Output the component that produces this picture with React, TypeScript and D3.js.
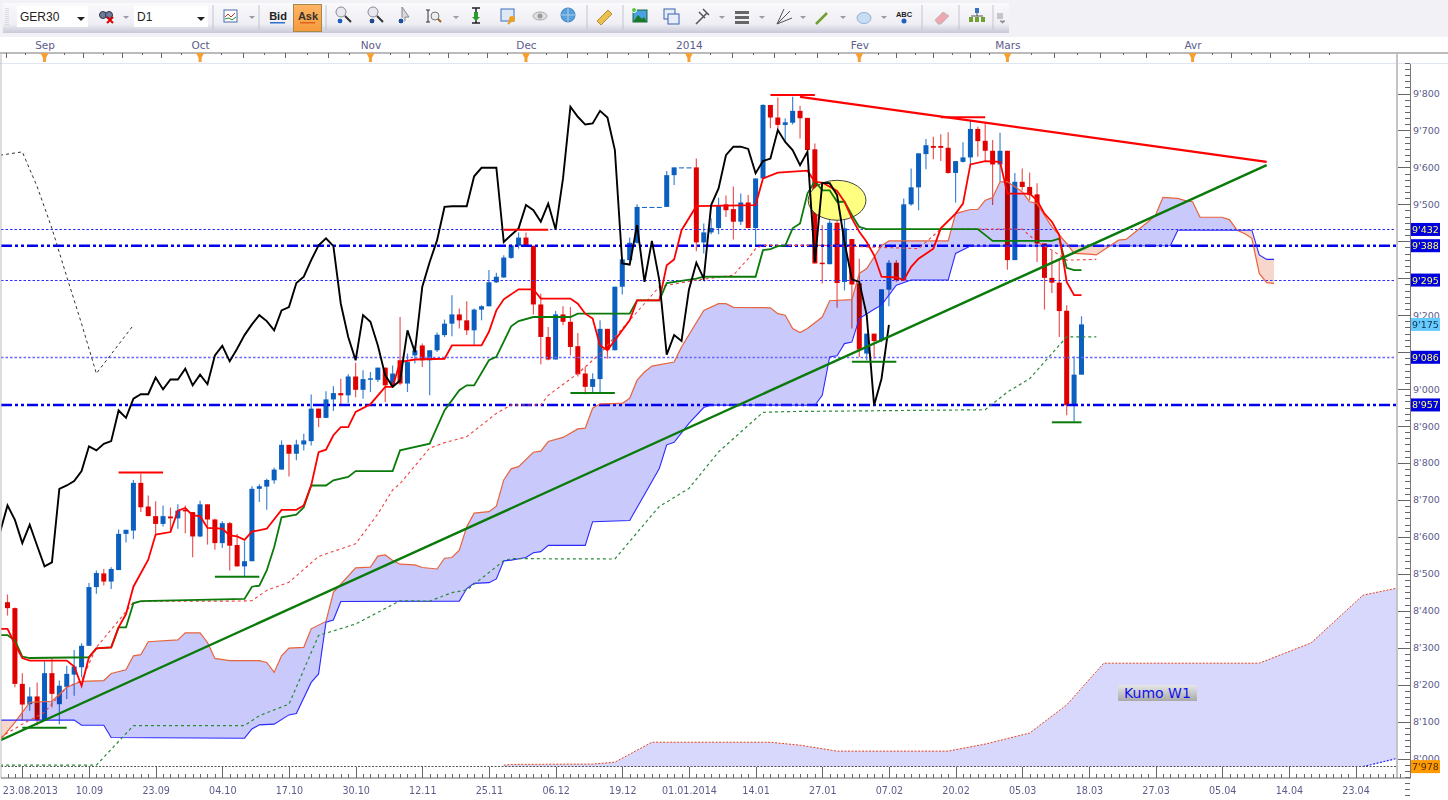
import { useEffect, useRef } from "react";
import * as d3 from "d3";

// daily candles, one entry per bar (bar 0 = 23.08.2013 minus two sessions)
const opens = [
  8423, 8407, 8202, 8147, 8168, 8102, 8231, 8147, 8194, 8227, 8247, 8305, 8464, 8501, 8479, 8510, 8608, 8617, 8746, 8682,
  8656, 8635, 8655, 8650, 8673, 8667, 8601, 8688, 8647, 8583, 8637, 8578, 8520, 8534, 8730, 8736, 8753, 8782, 8849, 8825,
  8850, 8859, 8947, 8922, 8972, 8989, 8983, 9034, 8998, 9025, 9025, 9058, 9010, 9078, 9015, 9091, 9118, 9078, 9105, 9146,
  9177, 9202, 9186, 9159, 9215, 9224, 9289, 9302, 9355, 9388, 9410, 9388, 9229, 9141, 9080, 9202, 9182, 9116, 9042, 9006,
  9027, 9163, 9105, 9277, 9349, 9396, 9493, 9493, 9493, 9493, 9579, 9600, 9600, 9600, 9397, 9424, 9436, 9500, 9487, 9453,
  9505, 9436, 9570, 9769, 9735, 9715, 9721, 9753, 9734, 9649, 9342, 9338, 9450, 9290, 9406, 9286, 9096, 9150, 9132, 9269,
  9342, 9295, 9500, 9546, 9636, 9658, 9658, 9653, 9585, 9615, 9627, 9704, 9672, 9645, 9608, 9645, 9349, 9561, 9547, 9527,
  9394, 9301, 9288, 9212, 8956, 9039,
];
const highs = [
  8444, 8409, 8231, 8193, 8206, 8263, 8272, 8211, 8251, 8294, 8312, 8475, 8509, 8513, 8518, 8620, 8619, 8754, 8771, 8712,
  8696, 8685, 8679, 8688, 8685, 8667, 8698, 8688, 8649, 8642, 8640, 8608, 8588, 8737, 8742, 8757, 8787, 8861, 8849, 8863,
  8879, 8985, 8947, 8994, 9008, 9028, 9040, 9071, 9051, 9046, 9058, 9058, 9064, 9195, 9096, 9118, 9123, 9105, 9153, 9188,
  9254, 9218, 9238, 9218, 9227, 9322, 9315, 9362, 9391, 9424, 9424, 9388, 9258, 9168, 9211, 9224, 9222, 9152, 9060, 9043,
  9186, 9163, 9277, 9351, 9410, 9500, 9493, 9493, 9493, 9590, 9600, 9600, 9600, 9624, 9448, 9462, 9518, 9524, 9548, 9529,
  9525, 9570, 9771, 9769, 9789, 9733, 9791, 9767, 9734, 9665, 9444, 9457, 9511, 9471, 9406, 9353, 9150, 9150, 9270, 9349,
  9349, 9516, 9597, 9638, 9677, 9683, 9690, 9695, 9617, 9668, 9728, 9710, 9719, 9674, 9694, 9645, 9585, 9597, 9586, 9557,
  9394, 9374, 9353, 9227, 9089, 9197,
];
const lows = [
  8387, 8193, 8102, 8129, 8089, 8102, 8138, 8093, 8161, 8170, 8220, 8305, 8446, 8468, 8459, 8510, 8585, 8594, 8667, 8656,
  8608, 8628, 8613, 8622, 8610, 8545, 8599, 8579, 8565, 8570, 8509, 8520, 8491, 8534, 8694, 8673, 8744, 8782, 8763, 8807,
  8834, 8847, 8897, 8922, 8941, 8956, 8962, 8978, 8974, 8992, 9019, 8965, 9006, 9010, 8992, 9069, 9060, 8983, 9100, 9141,
  9143, 9164, 9146, 9118, 9186, 9224, 9287, 9301, 9353, 9380, 9388, 9202, 9067, 9078, 9080, 9173, 9091, 9034, 8986, 8989,
  8989, 9082, 9105, 9256, 9344, 9394, 9493, 9493, 9493, 9493, 9552, 9600, 9600, 9373, 9367, 9419, 9419, 9466, 9405, 9444,
  9435, 9387, 9570, 9706, 9697, 9669, 9716, 9678, 9642, 9340, 9286, 9338, 9220, 9267, 9164, 9087, 9078, 9082, 9127, 9224,
  9290, 9295, 9496, 9484, 9595, 9622, 9617, 9583, 9505, 9613, 9606, 9629, 9615, 9498, 9561, 9323, 9349, 9538, 9511, 9344,
  9215, 9260, 9141, 8929, 8912, 9039,
];
const closes = [
  8407, 8202, 8146, 8168, 8104, 8231, 8175, 8197, 8229, 8249, 8305, 8464, 8502, 8479, 8513, 8608, 8619, 8746, 8680, 8656,
  8635, 8656, 8650, 8671, 8669, 8601, 8688, 8647, 8583, 8637, 8576, 8520, 8534, 8730, 8737, 8754, 8782, 8849, 8825, 8850,
  8861, 8947, 8922, 8972, 8989, 8983, 9034, 8998, 9027, 9029, 9058, 9010, 9042, 9015, 9073, 9105, 9078, 9105, 9147, 9177,
  9202, 9186, 9159, 9215, 9224, 9289, 9304, 9356, 9389, 9410, 9388, 9229, 9141, 9080, 9202, 9182, 9114, 9040, 9006, 9027,
  9163, 9107, 9277, 9351, 9396, 9493, 9493, 9493, 9493, 9579, 9600, 9600, 9600, 9397, 9424, 9436, 9498, 9484, 9453, 9505,
  9436, 9570, 9769, 9735, 9715, 9722, 9753, 9733, 9647, 9340, 9338, 9450, 9287, 9435, 9283, 9107, 9150, 9130, 9270, 9342,
  9295, 9500, 9546, 9638, 9660, 9653, 9653, 9585, 9617, 9627, 9704, 9671, 9645, 9608, 9645, 9349, 9561, 9547, 9525, 9394,
  9301, 9288, 9211, 8956, 9039, 9175,
];

type Pt = [number, number]; // [bar, price]

const tenkan: Pt[] = [
  [-1, 8351], [0, 8351], [1, 8310], [2, 8272], [3, 8265], [8, 8265], [9, 8249], [10, 8197], [11, 8274], [12, 8298], [14, 8301],
  [15, 8355], [16, 8391], [17, 8465], [19, 8538], [20, 8606], [22, 8613], [23, 8671], [24, 8678], [25, 8658], [26, 8656], [27, 8624],
  [29, 8622], [30, 8604], [31, 8601], [32, 8592], [33, 8614], [35, 8622], [37, 8673], [39, 8673], [40, 8685], [41, 8739], [42, 8829],
  [43, 8836], [44, 8875], [45, 8897], [46, 8897], [47, 8938], [49, 8959], [51, 9006], [52, 9006], [53, 9073], [55, 9080], [59, 9082],
  [60, 9118], [64, 9118], [65, 9155], [66, 9213], [67, 9243], [69, 9270], [71, 9270], [72, 9245], [76, 9245], [77, 9231], [78, 9204],
  [79, 9191], [80, 9118], [81, 9105], [82, 9132], [84, 9186], [85, 9240], [88, 9240], [89, 9335], [90, 9351], [91, 9430], [93, 9495],
  [101, 9498], [102, 9570], [104, 9586], [108, 9591], [109, 9561], [110, 9559], [112, 9536], [113, 9507], [114, 9462], [115, 9426],
  [116, 9398], [117, 9362], [118, 9304], [120, 9302], [121, 9295], [122, 9331], [123, 9353], [125, 9380], [126, 9435], [128, 9475],
  [129, 9502], [130, 9608], [132, 9617], [134, 9615], [135, 9529], [138, 9529], [139, 9511], [140, 9475], [141, 9453], [142, 9417],
  [143, 9290], [144, 9254], [145, 9254],
];
const kijun: Pt[] = [
  [-1, 8334], [0, 8334], [1, 8319], [2, 8276], [3, 8272], [11, 8274], [12, 8298], [14, 8301], [15, 8355], [16, 8355], [17, 8420],
  [18, 8426], [32, 8432], [33, 8465], [34, 8468], [35, 8509], [36, 8572], [37, 8653], [39, 8660], [40, 8680], [41, 8739], [43, 8739],
  [44, 8753], [46, 8762], [47, 8778], [52, 8778], [53, 8834], [57, 8852], [59, 8942], [61, 8997], [62, 9010], [63, 9010], [65, 9078],
  [66, 9087], [68, 9170], [69, 9184], [71, 9195], [76, 9195], [77, 9204], [84, 9204], [85, 9240], [88, 9240], [89, 9287], [93, 9299],
  [94, 9304], [101, 9304], [102, 9376], [103, 9379], [104, 9387], [105, 9388], [106, 9435], [107, 9448], [108, 9529], [109, 9563],
  [110, 9538], [111, 9538], [112, 9507], [113, 9507], [114, 9471], [115, 9439], [116, 9433], [131, 9433], [133, 9401], [141, 9401],
  [142, 9407], [143, 9328], [144, 9322], [145, 9322],
];
const chikou: Pt[] = [
  [-1, 8613], [0, 8685], [1, 8646], [2, 8583], [3, 8633], [4, 8576], [5, 8520], [6, 8531], [7, 8730], [8, 8739], [9, 8751], [10, 8778],
  [11, 8845], [12, 8834], [13, 8852], [14, 8859], [15, 8942], [16, 8922], [17, 8974], [18, 8986], [19, 8986], [20, 9031], [21, 8999],
  [22, 9026], [23, 9026], [24, 9055], [25, 9010], [26, 9039], [27, 9013], [28, 9091], [29, 9117], [30, 9075], [31, 9109], [32, 9146],
  [33, 9175], [34, 9200], [35, 9184], [36, 9159], [37, 9213], [38, 9222], [39, 9287], [40, 9304], [41, 9349], [42, 9389], [43, 9408],
  [44, 9387], [45, 9231], [46, 9141], [47, 9078], [48, 9200], [49, 9182], [50, 9118], [51, 9037], [52, 9006], [53, 9023], [54, 9159],
  [55, 9100], [56, 9277], [57, 9344], [58, 9403], [59, 9493], [60, 9495], [62, 9495], [63, 9576], [64, 9599], [66, 9599], [67, 9398],
  [68, 9417], [69, 9435], [70, 9498], [71, 9484], [72, 9453], [73, 9502], [74, 9432], [75, 9570], [76, 9764], [77, 9737], [78, 9716],
  [79, 9719], [80, 9753], [81, 9735], [82, 9647], [83, 9340], [84, 9337], [85, 9444], [86, 9290], [87, 9401], [88, 9295], [89, 9093],
  [90, 9146], [91, 9130], [92, 9269], [93, 9342], [94, 9299], [95, 9498], [96, 9543], [97, 9633], [98, 9656], [99, 9656], [100, 9650],
  [101, 9584], [102, 9617], [103, 9624], [104, 9701], [105, 9669], [106, 9647], [107, 9606], [108, 9642], [109, 9344], [110, 9558],
  [111, 9557], [112, 9525], [113, 9398], [114, 9297], [115, 9290], [116, 9200], [117, 8956], [118, 9028], [119, 9174],
];
const senkouA: Pt[] = [
  [-1, 8050], [1, 8098], [3, 8152], [6, 8155], [8, 8193], [10, 8209], [13, 8211], [14, 8230], [16, 8240], [17, 8278], [18, 8281],
  [19, 8316], [23, 8321], [24, 8340], [26, 8340], [27, 8314], [28, 8271], [30, 8265], [34, 8265], [35, 8260], [36, 8233], [37, 8278],
  [38, 8299], [40, 8301], [41, 8351], [43, 8371], [44, 8450], [47, 8516], [49, 8518], [50, 8548], [51, 8551], [52, 8536], [53, 8526],
  [55, 8524], [56, 8517], [58, 8513], [59, 8542], [60, 8544], [61, 8564], [62, 8627], [63, 8664], [65, 8668], [66, 8683], [67, 8754],
  [68, 8784], [69, 8790], [71, 8829], [72, 8832], [73, 8858], [75, 8869], [77, 8892], [78, 8894], [79, 8948], [80, 8960], [83, 8961],
  [84, 8975], [85, 9024], [86, 9046], [87, 9062], [90, 9073], [91, 9114], [94, 9213], [96, 9231], [97, 9231], [98, 9221], [103, 9220],
  [104, 9204], [105, 9200], [106, 9164], [107, 9153], [108, 9164], [110, 9195], [111, 9239], [114, 9242], [115, 9313], [116, 9326],
  [118, 9388], [119, 9401], [127, 9401], [128, 9475], [130, 9486], [131, 9486], [132, 9511], [133, 9518], [134, 9561], [135, 9561],
  [137, 9534], [138, 9507], [139, 9502], [141, 9439], [142, 9417], [143, 9394], [144, 9367], [146, 9365], [147, 9363], [149, 9390],
  [150, 9403], [151, 9405], [152, 9421], [154, 9453], [155, 9471], [156, 9519], [158, 9516], [159, 9510], [160, 9507], [161, 9465],
  [164, 9465], [165, 9458], [166, 9430], [167, 9421], [168, 9408], [169, 9313], [170, 9288], [171, 9286],
];
const senkouB: Pt[] = [
  [-1, 8104], [9, 8104], [10, 8090], [13, 8090], [14, 8057], [32, 8055], [33, 8080], [34, 8091], [36, 8093], [38, 8118], [39, 8122],
  [41, 8206], [42, 8229], [43, 8369], [44, 8375], [45, 8425], [61, 8426], [62, 8460], [63, 8474], [65, 8476], [66, 8486], [67, 8535],
  [68, 8537], [70, 8544], [71, 8557], [72, 8560], [73, 8577], [78, 8577], [79, 8641], [84, 8644], [88, 8785], [89, 8849], [90, 8856],
  [92, 8907], [94, 8950], [95, 8957], [109, 8956], [110, 8983], [111, 9087], [112, 9090], [113, 9123], [114, 9127], [115, 9191],
  [117, 9216], [118, 9227], [120, 9281], [122, 9295], [127, 9295], [128, 9367], [130, 9387], [157, 9388], [158, 9430], [168, 9430],
  [169, 9363], [170, 9351], [171, 9351],
];
const redDashed: Pt[] = [
  [-1, 8057], [2, 8093], [5, 8125], [8, 8193], [10, 8211], [12, 8301], [15, 8373], [17, 8423], [19, 8426], [30, 8426], [33, 8427],
  [35, 8455], [38, 8477], [42, 8547], [47, 8581], [50, 8662], [52, 8727], [53, 8744], [57, 8840], [59, 8855], [62, 8871], [66, 8934],
  [68, 8957], [72, 8957], [73, 8983], [77, 9042], [80, 9096], [84, 9186], [88, 9277], [93, 9295], [98, 9308], [99, 9331], [100, 9353],
  [101, 9380], [102, 9389], [110, 9389], [123, 9380], [126, 9433], [137, 9433], [139, 9398], [141, 9376], [143, 9349], [147, 9351],
];
const greenDashed: Pt[] = [
  [-1, 7982], [12, 7982], [17, 8089], [32, 8089], [34, 8116], [38, 8147], [42, 8333], [47, 8364], [53, 8427], [57, 8426], [60, 8449],
  [62, 8456], [67, 8535], [68, 8541], [82, 8540], [87, 8659], [88, 8682], [92, 8731], [96, 8830], [102, 8937], [105, 8939], [132, 8944],
  [135, 8992], [138, 9028], [143, 9141], [147, 9141],
];
const blackDashed: Pt[] = [[-1, 9633], [2, 9642], [4, 9548], [6, 9435], [8, 9304], [10, 9177], [12, 9042], [17, 9173]];
const weeklyTop: Pt[] = [
  [67, 7982], [68, 7984], [79, 7985], [82, 7990], [87, 8044], [103, 8044], [107, 8036], [112, 8020], [127, 8020], [132, 8039],
  [138, 8069], [143, 8145], [148, 8258], [169, 8258], [176, 8313], [183, 8442], [189, 8467],
];
const weeklyBottom: Pt[] = [[67, 7978], [183, 7978], [189, 8007]];

// drawn trend lines and the short marker bars at the swing highs / lows
const greenTrend: Pt[] = [[-1, 8049], [170, 9606]];
const redTrend: Pt[] = [[107, 9791], [170, 9615]];
const redMarks: [number, number, number][] = [[15, 21, 8774], [67, 73, 9431], [103, 109, 9796], [126, 132, 9736]];
const greenMarks: [number, number, number][] = [[2, 8, 8083], [28, 34, 8492], [76, 82, 8989], [114, 120, 9074], [141, 145, 8910]];

const thinLevels = [9432, 9295, 9086];
const thickLevels = [9388, 8957];
const bottomLevel = 7978;
const lastPrice = 9175;

const priceTicks = [7900, 8000, 8100, 8200, 8300, 8400, 8500, 8600, 8700, 8800, 8900, 9000, 9100, 9200, 9300, 9400, 9500, 9600, 9700, 9800];
// 9'400, 9'300 and 9'100 sit right under the level badges
const priceLabels = [8000, 8100, 8200, 8300, 8400, 8500, 8600, 8700, 8800, 8900, 9000, 9200, 9500, 9600, 9700, 9800];
const dateLabels = ["23.08.2013", "10.09", "23.09", "04.10", "17.10", "30.10", "12.11", "25.11", "06.12", "19.12", "01.01.2014", "14.01", "27.01", "07.02", "20.02", "05.03", "18.03", "27.03", "05.04", "14.04", "23.04"];
const monthLabels = ["Sep", "Oct", "Nov", "Dec", "2014", "Fev", "Mars", "Avr"];
const monthBars = [5, 26, 49, 70, 92, 115, 135, 160];

const W = 1448;
const H = 800;
const plotRight = 1397;
const plotTop = 64;
const plotBottom = 767;

const x = d3.scaleLinear().domain([0, 145]).range([7.5, 1081.5]);
const y = d3.scaleLinear().domain([9800, 8000]).range([93.5, 758.5]);
const crispY = (p: number) => Math.round(y(p)) + 0.5;

const lineGen = d3.line<Pt>().x(d => x(d[0])).y(d => y(d[1]));
const fmt = d3.formatLocale({ thousands: "'", grouping: [3], decimal: ".", currency: ["", ""] }).format(",");

const BLUE = "#0b5fbf";
const RED = "#e00000";
const GREEN = "#0a7a0a";
const AXIS_TEXT = "#5c5c8c";
const FONT = "'DejaVu Sans', sans-serif";

const kumoPoly = lineGen(senkouA) + "L" + lineGen([...senkouB].reverse())!.slice(1) + "Z";
const weeklyPoly = lineGen(weeklyTop) + "L" + lineGen([...weeklyBottom].reverse())!.slice(1) + "Z";
const aboveB = d3.area<Pt>().x(d => x(d[0])).y0(0).y1(d => y(d[1]))(senkouB)!;
const belowB = d3.area<Pt>().x(d => x(d[0])).y0(H).y1(d => y(d[1]))(senkouB)!;

const Axis = ({ make, transform, size = 10, after }: { make: any; transform: string; size?: number; after?: (g: any) => void }) => {
  const ref = useRef<SVGGElement | null>(null);
  useEffect(() => {
    const g = d3.select(ref.current);
    g.selectAll("*").remove();
    g.call(make);
    g.select(".domain").remove();
    g.attr("font-family", FONT).attr("font-size", size).style("color", "#666");
    g.selectAll("text").attr("fill", AXIS_TEXT);
    if (after) after(g);
  }, []);
  return <g ref={ref} transform={transform} shapeRendering="crispEdges" />;
};

const Sep = ({ px }: { px: number }) => <line x1={px} x2={px} y1={5} y2={30} stroke="#c4c4d2" />;
const Drop = ({ px }: { px: number }) => <path d={`M${px - 3},16 h6 l-3,3 z`} fill="#9a9aa8" />;
const Magnifier = ({ px, c = "#1c50a0" }: { px: number; c?: string }) => (
  <g transform={`translate(${px},16)`}>
    <circle cx={-2} cy={-4} r={5} fill="#e8e8ee" stroke="#8a8a96" />
    <line x1={2} y1={0} x2={8} y2={6} stroke="#333" strokeWidth={2} />
    <circle cx={-3} cy={5} r={3} fill={c} stroke="#fff" />
  </g>
);

const Toolbar = () => (
  <g fontFamily="'Liberation Sans', sans-serif">
    <defs>
      <linearGradient id="tb" x1="0" x2="0" y1="0" y2="1">
        <stop offset="0" stopColor="#fafafc" />
        <stop offset="0.7" stopColor="#eeeef4" />
        <stop offset="1" stopColor="#c8c8d8" />
      </linearGradient>
      <linearGradient id="ask" x1="0" x2="0" y1="0" y2="1">
        <stop offset="0" stopColor="#fdb565" />
        <stop offset="1" stopColor="#f79a3c" />
      </linearGradient>
      <linearGradient id="kumoTag" x1="0" x2="0" y1="0" y2="1">
        <stop offset="0" stopColor="#e6e6e6" />
        <stop offset="1" stopColor="#a9a9a9" />
      </linearGradient>
    </defs>
    <rect x={0} y={0} width={W} height={37} fill="#f1f1f6" />
    <rect x={3} y={3} width={1006} height={30} fill="url(#tb)" />
    <path d="M6,8v18M8,8v18" stroke="#c4c4d0" strokeDasharray="1 1" />

    <rect x={17} y={6} width={71} height={21} fill="#fff" />
    <text x={20} y={21} fontSize={12} fill="#222">GER30</text>
    <path d="M77,17 h8 l-4,4 z" fill="#222" />
    <g transform="translate(106,17)">
      <circle cx={-3} cy={-2} r={3.5} fill="#6c7c9c" stroke="#334" />
      <circle cx={3} cy={-2} r={3.5} fill="#6c7c9c" stroke="#334" />
      <path d="M1,0 l6,6 M7,0 l-6,6" stroke="#e00000" strokeWidth={2} />
    </g>
    <Drop px={126} />
    <rect x={134} y={6} width={74} height={21} fill="#fff" />
    <text x={137} y={21} fontSize={12} fill="#222">D1</text>
    <path d="M197,17 h8 l-4,4 z" fill="#222" />
    <Sep px={213} />
    <g transform="translate(231,16)">
      <rect x={-7} y={-6} width={13} height={12} fill="#fff" stroke="#4a6aa8" />
      <path d="M-6,1 l3,-3 l3,3 l4,-4" fill="none" stroke="#d03030" />
      <path d="M-6,3 l4,-1 l3,2 l4,-3" fill="none" stroke="#2a902a" />
    </g>
    <Drop px={252} />
    <Sep px={259} />
    <text x={278} y={20} fontSize={11} textAnchor="middle" fill="#222" fontWeight="bold">Bid</text>
    <rect x={270} y={22} width={15} height={1.5} fill="#2a70d0" />
    <rect x={293.5} y={4.5} width={28} height={27} fill="url(#ask)" stroke="#a88848" />
    <text x={308} y={20} fontSize={11} textAnchor="middle" fill="#333" fontWeight="bold">Ask</text>
    <rect x={300} y={22} width={15} height={1.5} fill="#e06020" />
    <Sep px={326} />
    <Magnifier px={343} c="#2060c0" />
    <Magnifier px={375} c="#204890" />
    <g transform="translate(404,16)">
      <path d="M-2,-9 l7,10 h-4 v4 h-3 z" fill="#d8d8e0" stroke="#888" />
      <circle cx={-3} cy={5} r={3} fill="#1c50a0" stroke="#fff" />
    </g>
    <g transform="translate(433,16)">
      <path d="M-5,-6 v12 M-7,-6 h4 M-7,6 h4" stroke="#333" fill="none" />
      <circle cx={2} cy={0} r={4} fill="#eee" stroke="#777" />
      <line x1={5} y1={3} x2={8} y2={6} stroke="#a06020" strokeWidth={2} />
    </g>
    <Drop px={456} />
    <g transform="translate(476,16)">
      <path d="M-4,-8 h8 M-4,7 h8 M0,-8 v15" stroke="#222" strokeWidth={1.5} />
      <path d="M-2,-4 h4 v5 h2 l-4,4 l-4,-4 h2 z" fill="#2a9a2a" />
    </g>
    <g transform="translate(508,16)">
      <rect x={-7} y={-7} width={13} height={12} fill="#dfe8f6" stroke="#3a70c0" />
      <circle cx={4} cy={3} r={3} fill="#f0a020" />
      <line x1={4} y1={4} x2={0} y2={8} stroke="#f0a020" strokeWidth={2} />
    </g>
    <g transform="translate(540,16)">
      <ellipse cx={0} cy={0} rx={7} ry={4} fill="#e0e0e0" stroke="#aaa" />
      <circle cx={0} cy={0} r={2.5} fill="#999" />
    </g>
    <circle cx={568} cy={15} r={7} fill="#5aa0d8" stroke="#3a80c0" />
    <path d="M561,15 h14 M568,8 v14" stroke="#a8d0f0" />
    <Sep px={587} />
    <path d="M597,21 l11,-11 l4,4 l-11,11 z" fill="#e8c050" stroke="#b89030" />
    <Sep px={623} />
    <g transform="translate(640,16)">
      <rect x={-7} y={-6} width={14} height={12} fill="#4aa0e0" stroke="#1a6a3a" />
      <path d="M-7,6 l5,-7 l4,4 l2,-2 l3,5 z" fill="#1a7a2a" />
      <circle cx={-6} cy={-6} r={2.5} fill="#5ac040" stroke="#fff" />
    </g>
    <g transform="translate(671,16)" fill="#e8eef8" stroke="#3a60b0">
      <rect x={-7} y={-7} width={11} height={10} />
      <rect x={-3} y={-2} width={11} height={10} />
    </g>
    <path d="M696,24 l11,-11 M699,12 l6,6 M703,9 l6,6" stroke="#555" strokeWidth={1.5} fill="none" />
    <Drop px={722} />
    <g fill="#666">
      <rect x={735} y={11} width={14} height={3} />
      <rect x={735} y={16} width={14} height={3} />
      <rect x={735} y={21} width={14} height={3} />
    </g>
    <Drop px={762} />
    <path d="M777,24 l13,-13 M777,24 l15,-6 M777,24 l7,-15" stroke="#555" fill="none" />
    <Drop px={803} />
    <path d="M816,24 l11,-11" stroke="#70a030" strokeWidth={2.5} />
    <Drop px={843} />
    <ellipse cx={864} cy={18} rx={7} ry={5.5} fill="#c8dcf4" stroke="#90b0d8" />
    <Drop px={884} />
    <text x={904} y={17} fontSize={7.5} textAnchor="middle" fontWeight="bold" fill="#222">ABC</text>
    <circle cx={904} cy={21} r={2.5} fill="#2060c0" />
    <Sep px={922} />
    <path d="M935,20 l8,-8 l6,4 l-8,8 h-3 z" fill="#f0a8b0" stroke="#bbb" />
    <Sep px={959} />
    <g transform="translate(977,16)">
      <rect x={-2} y={-8} width={4} height={5} fill="#3a70c0" />
      <path d="M0,-3 v3 M-6,0 h12" stroke="#555" />
      <rect x={-8} y={1} width={4} height={5} fill="#70a030" />
      <rect x={-2} y={1} width={4} height={5} fill="#70a030" />
      <rect x={4} y={1} width={4} height={5} fill="#70a030" />
    </g>
    <Sep px={993} />
    <path d="M997,14 h6 M997,16 h6 M997,18 h6 M1000,21 h5 l-2.5,2 z" stroke="#999" fill="#888" strokeWidth={1} />
  </g>
);

const App = () => {
  const bars = d3.range(opens.length);
  const allDates = dateLabels.map((_, k) => 2 + 9 * k);
  const everyBar = d3.range(0, 189);
  const minorPrice = priceTicks.flatMap(p => d3.range(0, 6).map(k => p + (k * 100) / 6));
  const monthStarts = [-16, ...monthBars, 181];
  const subTicks = monthStarts.slice(0, -1).flatMap((b, i) => d3.range(0, 8).map(k => b + ((monthStarts[i + 1] - b) * k) / 8));
  const tallTop = subTicks.filter((_, i) => i % 2 === 0).filter(b => x(b) < plotRight);
  const shortTop = subTicks.filter((_, i) => i % 2 === 1).filter(b => x(b) < plotRight);

  return (
    <svg width={W} height={H} viewBox={`0 0 ${W} ${H}`} style={{ position: "absolute", left: 0, top: 0, background: "#fff" }}>
      <Toolbar />
      <defs>
        <clipPath id="plot"><rect x={1.5} y={plotTop} width={plotRight - 1.5} height={plotBottom - plotTop} /></clipPath>
        <clipPath id="aboveB"><path d={aboveB} /></clipPath>
        <clipPath id="belowB"><path d={belowB} /></clipPath>
      </defs>

      {/* month strip */}
      <line x1={0} x2={W} y1={53} y2={53} stroke="#777" />
      <line x1={0} x2={W} y1={63.5} y2={63.5} stroke="#dfe6ef" />
      <Axis transform="translate(0,53)" make={d3.axisBottom(x).tickValues(tallTop).tickSize(5).tickFormat(() => "")} />
      <Axis transform="translate(0,53)" make={d3.axisBottom(x).tickValues(shortTop).tickSize(2).tickFormat(() => "")} />
      <Axis
        transform="translate(0,53)"
        size={10.5}
        make={d3.axisTop(x).tickValues(monthBars).tickSize(0).tickPadding(4).tickFormat((_, i) => monthLabels[i])}
      />
      {monthBars.map(b => (
        <path key={b} d={`M${x(b) - 4},53 h8 l-2.5,5 v4 h-3 v-4 z`} fill="#f5a030" />
      ))}

      <g clipPath="url(#plot)">
        {/* weekly cloud */}
        <path d={weeklyPoly} fill="#d8d8fd" />
        <path d={lineGen(weeklyTop)!} fill="none" stroke="#e8431a" strokeWidth={1} strokeDasharray="2 1.5" />
        <path d={lineGen(weeklyBottom.slice(1))!} fill="none" stroke="#2a2aff" strokeWidth={1.2} strokeDasharray="2 1.5" />

        {/* candles, the cloud multiplies over them */}
        {bars.map(i => {
          const up = closes[i] >= opens[i];
          const top = y(Math.max(opens[i], closes[i]));
          const bot = y(Math.min(opens[i], closes[i]));
          return (
            <g key={i}>
              <line x1={x(i)} x2={x(i)} y1={y(highs[i])} y2={y(lows[i])} stroke={up ? "#3f86d4" : "#e85858"} strokeWidth={1.2} />
              <rect x={x(i) - 2.5} y={top} width={5} height={Math.max(bot - top, 1)} fill={up ? BLUE : RED} />
            </g>
          );
        })}
        <g style={{ mixBlendMode: "multiply" }}>
          <path d={kumoPoly} fill="#c9c9fb" clipPath="url(#aboveB)" />
          <path d={kumoPoly} fill="#f7d6cb" clipPath="url(#belowB)" />
        </g>

        {/* support / resistance levels */}
        {thinLevels.map((l, i) => (
          <line key={l} x1={1} x2={plotRight} y1={crispY(l)} y2={crispY(l)} stroke={i === 2 ? "#6868ff" : "#2c2cff"} strokeWidth={i === 2 ? 1.5 : 1} strokeDasharray="2.5 2" />
        ))}
        {thickLevels.map(l => (
          <line key={l} x1={1} x2={plotRight} y1={y(l)} y2={y(l)} stroke="#0000ee" strokeWidth={2.4} strokeDasharray="11 3 3 3 3 3" />
        ))}
        <line x1={1} x2={plotRight} y1={y(bottomLevel)} y2={y(bottomLevel)} stroke="#555" strokeWidth={1.5} strokeDasharray="2 1.5" />

        <path d={lineGen(senkouA)!} fill="none" stroke="#e8643c" strokeWidth={1.2} />
        <path d={lineGen(senkouB)!} fill="none" stroke="#2a2aff" strokeWidth={1.1} />
        <path d={lineGen(redDashed)!} fill="none" stroke="#f04040" strokeWidth={1.1} strokeDasharray="3 3" />
        <path d={lineGen(greenDashed)!} fill="none" stroke="#2a8a3a" strokeWidth={1.2} strokeDasharray="3 3" />
        <path d={lineGen(blackDashed)!} fill="none" stroke="#333" strokeWidth={1} strokeDasharray="3 3" />

        <ellipse cx={x(112)} cy={y(9511)} rx={x(112) - x(108.1)} ry={y(9457) - y(9511)} fill="#ffff80" stroke="#444" />

        <path d={lineGen(kijun)!} fill="none" stroke={GREEN} strokeWidth={1.8} />
        <path d={lineGen(tenkan)!} fill="none" stroke="#ff0000" strokeWidth={1.8} />
        <path d={lineGen(chikou)!} fill="none" stroke="#000" strokeWidth={1.9} />

        {redMarks.map(m => (
          <line key={m[2]} x1={x(m[0])} x2={x(m[1])} y1={y(m[2])} y2={y(m[2])} stroke="#ff0000" strokeWidth={2} />
        ))}
        {greenMarks.map(m => (
          <line key={m[2]} x1={x(m[0])} x2={x(m[1])} y1={y(m[2])} y2={y(m[2])} stroke={GREEN} strokeWidth={2} />
        ))}
        <path d={lineGen(redTrend)!} fill="none" stroke="#ff0000" strokeWidth={2.2} />
        <path d={lineGen(greenTrend)!} fill="none" stroke={GREEN} strokeWidth={2.4} />

        <rect x={1118} y={685} width={79} height={16} fill="url(#kumoTag)" />
        <text x={1157.5} y={698} textAnchor="middle" fontFamily={FONT} fontSize={14} fill="#1010f0">Kumo W1</text>
      </g>

      {/* frame */}
      <line x1={1} x2={1} y1={53} y2={778} stroke="#bbb" />
      <line x1={plotRight} x2={plotRight} y1={54} y2={778} stroke="#c4c4c4" strokeWidth={2} />
      <line x1={1410.5} x2={1410.5} y1={64} y2={778} stroke="#777" />
      <line x1={1} x2={1411} y1={778} y2={778} stroke="#666" />

      {/* price axis */}
      <Axis transform="translate(1410,0)" make={d3.axisLeft(y).tickValues(minorPrice).tickSize(5).tickFormat(() => "")} />
      <Axis transform="translate(1410,0)" make={d3.axisLeft(y).tickValues(priceTicks.filter(p => y(p) < 770)).tickSize(12).tickFormat(() => "")} />
      <Axis transform="translate(1413,0)" size={9.5} make={d3.axisRight(y).tickValues(priceLabels).tickSize(0).tickPadding(0).tickFormat(d => fmt(d as number))} />

      {[...thinLevels, ...thickLevels].map(l => (
        <g key={l} fontFamily={FONT} fontSize={9.5}>
          <rect x={1411} y={y(l) - 6.5} width={29} height={13} fill="#0000e0" />
          <text x={1412} y={y(l) + 3.5} fill="#ffff70">{fmt(l)}</text>
        </g>
      ))}
      <g fontFamily={FONT} fontSize={9.5}>
        <rect x={1411} y={y(lastPrice) - 6.5} width={29} height={13} fill="#66ccff" />
        <text x={1412} y={y(lastPrice) + 3.5} fill="#103050">{fmt(lastPrice)}</text>
        <rect x={1411} y={y(bottomLevel) - 6.5} width={29} height={13} fill="#ff9a00" />
        <text x={1412} y={y(bottomLevel) + 3.5} fill="#503000">{fmt(bottomLevel)}</text>
      </g>

      {/* date axis */}
      <Axis
        transform="translate(0,778)"
        make={d3.axisTop(x).tickValues(everyBar.filter(b => x(b) < 1410)).tickSize(4).tickFormat(() => "")}
      />
      <Axis
        transform="translate(0,778)"
        make={d3.axisTop(x).tickValues(allDates).tickSize(11).tickFormat(() => "")}
      />
      <Axis
        transform="translate(0,778)"
        size={9.6}
        make={d3.axisBottom(x).tickValues(allDates).tickSize(0).tickPadding(9).tickFormat((_, i) => dateLabels[i])}
        after={g => g.select(".tick text").attr("text-anchor", "start").attr("x", -20)}
      />
    </svg>
  );
};

export default App;
